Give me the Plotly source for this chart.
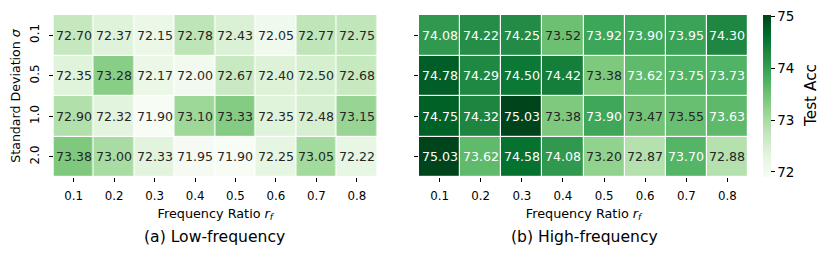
import plotly.graph_objects as go

ratios = ["0.1", "0.2", "0.3", "0.4", "0.5", "0.6", "0.7", "0.8"]
sigmas = ["0.1", "0.5", "1.0", "2.0"]

low_freq = [
    [72.70, 72.37, 72.15, 72.78, 72.43, 72.05, 72.77, 72.75],
    [72.35, 73.28, 72.17, 72.00, 72.67, 72.40, 72.50, 72.68],
    [72.90, 72.32, 71.90, 73.10, 73.33, 72.35, 72.48, 73.15],
    [73.38, 73.00, 72.33, 71.95, 71.90, 72.25, 73.05, 72.22],
]
high_freq = [
    [74.08, 74.22, 74.25, 73.52, 73.92, 73.90, 73.95, 74.30],
    [74.78, 74.29, 74.50, 74.42, 73.38, 73.62, 73.75, 73.73],
    [74.75, 74.32, 75.03, 73.38, 73.90, 73.47, 73.55, 73.63],
    [75.03, 73.62, 74.58, 74.08, 73.20, 72.87, 73.70, 72.88],
]
cbar_ticks = [72, 73, 74, 75]

greens = [(247, 252, 245), (229, 245, 224), (199, 233, 192), (161, 217, 155),
          (116, 196, 118), (65, 171, 93), (35, 139, 69), (0, 109, 44), (0, 68, 27)]
colorscale = [[i / 8, "rgb(%d,%d,%d)" % c] for i, c in enumerate(greens)]

allv = [v for row in low_freq + high_freq for v in row]
vmin, vmax = min(allv), max(allv)

FONT = "DejaVu Sans"
xidx = list(range(len(ratios)))
yidx = list(range(len(sigmas)))


def cmap(v):
    t = (v - vmin) / (vmax - vmin)
    t = min(max(t, 0), 1) * 8
    i = min(int(t), 7)
    f = t - i
    a, b = greens[i], greens[i + 1]
    return [a[k] + (b[k] - a[k]) * f for k in range(3)]


def lum(rgb):
    out = []
    for c in rgb:
        c = c / 255
        out.append(c / 12.92 if c <= 0.04045 else ((c + 0.055) / 1.055) ** 2.4)
    return 0.2126 * out[0] + 0.7152 * out[1] + 0.0722 * out[2]


# page body has an 8px margin; figure is sized to fit inside the window
OFF = 8
W, H = 831 - 2 * OFF, 259 - 2 * OFF


def px(x):
    return (x - OFF) / W


def py(y):
    return 1 - (y - OFF) / H


top, bot = py(15), py(177)

fig = go.Figure()
annots = []
for k, (data, xa, ya) in enumerate([(low_freq, "x", "y"), (high_freq, "x2", "y2")]):
    fig.add_trace(go.Heatmap(
        z=data, x=xidx, y=yidx, xaxis=xa, yaxis=ya,
        colorscale=colorscale, zmin=vmin, zmax=vmax,
        xgap=1.2, ygap=1.2, showscale=(k == 1), hoverinfo="skip",
        colorbar=dict(
            x=px(763), xanchor="left", xref="paper",
            y=bot, yanchor="bottom", len=top - bot, lenmode="fraction",
            thickness=8, thicknessmode="pixels", outlinewidth=0, xpad=0, ypad=0,
            tickvals=cbar_ticks, ticks="outside", ticklen=4, tickcolor="black",
            tickfont=dict(family=FONT, size=13.5, color="black"),
        ),
    ))
    for i in yidx:
        for j in xidx:
            v = data[i][j]
            col = "#262626" if lum(cmap(v)) > 0.408 else "white"
            annots.append(dict(x=j, y=i, xref=xa, yref=ya, text="%.2f" % v,
                               showarrow=False, font=dict(family=FONT, size=12.6, color=col)))

axis_common = dict(ticks="outside", ticklen=4, tickcolor="black", tickwidth=1,
                   showgrid=False, zeroline=False, showline=False, automargin=False,
                   tickfont=dict(family=FONT, size=11.8, color="black"))
xt = dict(text="Frequency Ratio <i>r</i><sub><i>f</i></sub>", font=dict(family=FONT, size=12.8, color="black"), standoff=6)

annots += [
    dict(text="(a) Low-frequency", x=px(215), y=py(237), xref="paper", yref="paper",
         xanchor="center", yanchor="middle", showarrow=False, font=dict(family=FONT, size=15.6, color="black")),
    dict(text="(b) High-frequency", x=px(584), y=py(237), xref="paper", yref="paper",
         xanchor="center", yanchor="middle", showarrow=False, font=dict(family=FONT, size=15.6, color="black")),
    dict(text="Test Acc", x=px(811), y=(top + bot) / 2, xref="paper", yref="paper", textangle=-90,
         xanchor="center", yanchor="middle", showarrow=False, font=dict(family=FONT, size=15.3, color="black")),
]

fig.update_layout(
    width=W, height=H, margin=dict(l=0, r=0, t=0, b=0, pad=0, autoexpand=False),
    plot_bgcolor="white", paper_bgcolor="white",
    xaxis=dict(domain=[px(53.5), px(377)], anchor="y", title=xt, tickvals=xidx, ticktext=ratios,
               range=[-0.5, 7.5], ticklabelstandoff=4, **axis_common),
    yaxis=dict(domain=[bot, top], anchor="x", range=[3.5, -0.5], tickangle=-90,
               tickvals=yidx, ticktext=sigmas, ticklabelstandoff=5,
               title=dict(text="Standard Deviation <i>σ</i>", font=dict(family=FONT, size=12.6, color="black"), standoff=4),
               **axis_common),
    xaxis2=dict(domain=[px(419), px(748)], anchor="y2", title=xt, tickvals=xidx, ticktext=ratios,
                range=[-0.5, 7.5], ticklabelstandoff=4, **axis_common),
    yaxis2=dict(domain=[bot, top], anchor="x2", range=[3.5, -0.5], tickvals=yidx,
                showticklabels=False, **axis_common),
    annotations=annots,
)

fig.write_html("out.html")
